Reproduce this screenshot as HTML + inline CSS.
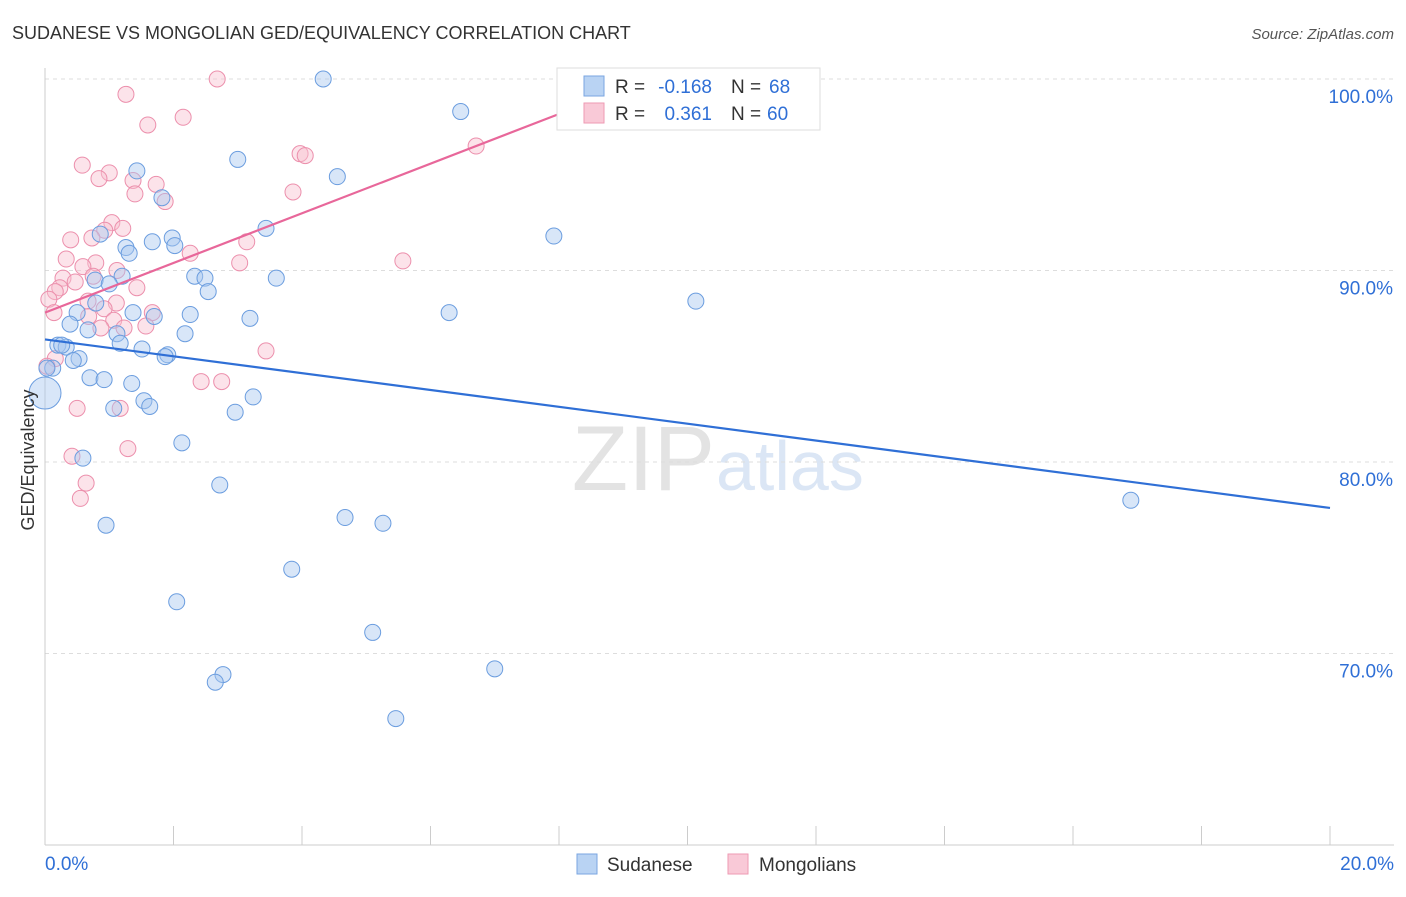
<!DOCTYPE html>
<html><head><meta charset="utf-8"><style>
body{margin:0;background:#fff;font-family:"Liberation Sans",sans-serif}
svg text{font-family:"Liberation Sans",sans-serif}
</style></head><body>
<svg width="1406" height="892">
<text x="12" y="39" font-size="18" fill="#333">SUDANESE VS MONGOLIAN GED/EQUIVALENCY CORRELATION CHART</text>
<text x="1394" y="39" font-size="15" fill="#555" text-anchor="end" font-style="italic">Source: ZipAtlas.com</text>
<text x="715" y="490" font-size="92" fill="#e3e3e3" text-anchor="end" font-family="Liberation Serif">ZIP</text>
<text x="716" y="490" font-size="70" fill="#dbe6f5">atlas</text>
<g id="grid"></g><g id="axes"></g><g id="marks"></g>
<text x="34" y="460" font-size="18" fill="#333" transform="rotate(-90 34 460)" text-anchor="middle">GED/Equivalency</text>
<g>
<rect x="557" y="68" width="263" height="62" fill="#fff" stroke="#ddd"/>
<rect x="584" y="76" width="20" height="20" fill="#b9d3f3" stroke="#7aa6e0"/>
<rect x="584" y="103" width="20" height="20" fill="#f9c9d7" stroke="#ee9ab3"/>
<text x="615" y="93" font-size="19" fill="#333">R =</text>
<text x="712" y="93" font-size="19" fill="#2f6fd6" text-anchor="end">-0.168</text>
<text x="731" y="93" font-size="19" fill="#333">N =</text>
<text x="769" y="93" font-size="19" fill="#2f6fd6">68</text>
<text x="615" y="120" font-size="19" fill="#333">R =</text>
<text x="712" y="120" font-size="19" fill="#2f6fd6" text-anchor="end">0.361</text>
<text x="731" y="120" font-size="19" fill="#333">N =</text>
<text x="767" y="120" font-size="19" fill="#2f6fd6">60</text>
</g>
<g>
<rect x="577" y="854" width="20" height="20" fill="#b9d3f3" stroke="#7aa6e0"/>
<text x="607" y="871" font-size="19" fill="#333">Sudanese</text>
<rect x="728" y="854" width="20" height="20" fill="#f9c9d7" stroke="#ee9ab3"/>
<text x="759" y="871" font-size="19" fill="#333">Mongolians</text>
</g>
</svg>
<script>
const yTicks=[100,90,80,70];
const xTickLabels=["0.0%","20.0%"];
const sudX=[4.33,6.47,3.0,1.43,4.55,1.82,3.44,7.92,0.86,1.67,1.98,1.26,2.02,1.31,2.33,2.49,3.6,1.2,0.78,1.0,2.54,10.13,0.79,0.5,1.37,2.26,6.29,3.19,1.7,0.39,0.67,2.18,1.12,1.17,0.2,0.33,1.51,1.91,1.87,0.53,0.44,0.12,0.7,0.92,1.35,3.24,1.54,1.07,1.63,2.96,2.13,0.59,2.72,16.9,4.67,5.26,0.95,3.84,2.05,5.1,7.0,2.77,2.65,5.46,0.0,0.03,0.26];
const sudY=[100,98.3,95.8,95.2,94.9,93.8,92.2,91.8,91.9,91.5,91.7,91.2,91.3,90.9,89.7,89.6,89.6,89.7,89.5,89.3,88.9,88.4,88.3,87.8,87.8,87.7,87.8,87.5,87.6,87.2,86.9,86.7,86.7,86.2,86.1,86.0,85.9,85.6,85.5,85.4,85.3,84.9,84.4,84.3,84.1,83.4,83.2,82.8,82.9,82.6,81.0,80.2,78.8,78.0,77.1,76.8,76.7,74.4,72.7,71.1,69.2,68.9,68.5,66.6,83.6,84.9,86.1];
const monX=[2.68,1.26,2.15,1.6,3.97,4.05,6.71,0.58,1.0,0.84,1.37,1.73,1.4,1.87,3.86,1.04,1.21,0.93,0.4,0.73,3.14,2.26,0.33,3.03,5.57,0.79,0.59,1.12,0.28,0.75,0.47,1.43,0.23,0.16,0.06,1.11,0.67,0.92,0.14,0.68,1.07,1.67,1.57,0.87,1.23,3.44,0.16,2.43,2.75,0.03,0.5,1.17,1.29,0.42,0.64,0.55];
const monY=[100,99.2,98.0,97.6,96.1,96.0,96.5,95.5,95.1,94.8,94.7,94.5,94.0,93.6,94.1,92.5,92.2,92.1,91.6,91.7,91.5,90.9,90.6,90.4,90.5,90.4,90.2,90.0,89.6,89.7,89.4,89.1,89.1,88.9,88.5,88.3,88.4,88.0,87.8,87.6,87.4,87.8,87.1,87.0,87.0,85.8,85.4,84.2,84.2,85.0,82.8,82.8,80.7,80.3,78.9,78.1];
const NS="http://www.w3.org/2000/svg";
const X=v=>45+v/20*1285, Y=v=>79+(100-v)*19.15;
function el(t,a,p){const e=document.createElementNS(NS,t);for(const k in a)e.setAttribute(k,a[k]);p.appendChild(e);return e;}
const grid=document.getElementById('grid'),axes=document.getElementById('axes'),marks=document.getElementById('marks');
yTicks.forEach(t=>{const l=el('line',{x1:45,x2:1394,y1:Y(t),y2:Y(t),stroke:'#ddd','stroke-dasharray':'4,4'},grid);


const tx=el('text',{x:1393,y:Y(t)+24,'font-size':19,fill:'#2f6fd6','text-anchor':'end'},axes);tx.textContent=t.toFixed(1)+'%';

});
el('line',{x1:45,x2:45,y1:68,y2:845,stroke:'#ccc'},axes);
el('line',{x1:45,x2:1394,y1:845,y2:845,stroke:'#ccc'},axes);
for(let i=0;i<=10;i++){el('line',{x1:X(i*2),x2:X(i*2),y1:826,y2:845,stroke:'#ccc'},axes);}
const l0=el('text',{x:45,y:870,'font-size':19,fill:'#2f6fd6'},axes);l0.textContent=xTickLabels[0];


const l1=el('text',{x:1394,y:870,'font-size':19,fill:'#2f6fd6','text-anchor':'end'},axes);l1.textContent=xTickLabels[1];


function pts(xs,ys,fill,stroke,name){xs.forEach((x,i)=>{const big=(x<0.05&&name==='sudanese'&&ys[i]<84);const c=el('circle',{cx:X(x),cy:Y(ys[i]),r:big?16:8,fill:fill,'fill-opacity':0.45,stroke:stroke,'stroke-width':1},marks);

});}
pts(monX,monY,'#f9c0d1','#ec8fac','mongolian');
pts(sudX,sudY,'#a9c8ef','#6b9ddf','sudanese');
const bl=el('line',{x1:X(0),y1:Y(86.4),x2:X(20),y2:Y(77.6),stroke:'#2f6fd6','stroke-width':2.2},marks);


const pl=el('line',{x1:X(0),y1:Y(87.8),x2:X(8.02),y2:Y(98.2),stroke:'#e8679a','stroke-width':2.2},marks);


</script>
</body></html>
